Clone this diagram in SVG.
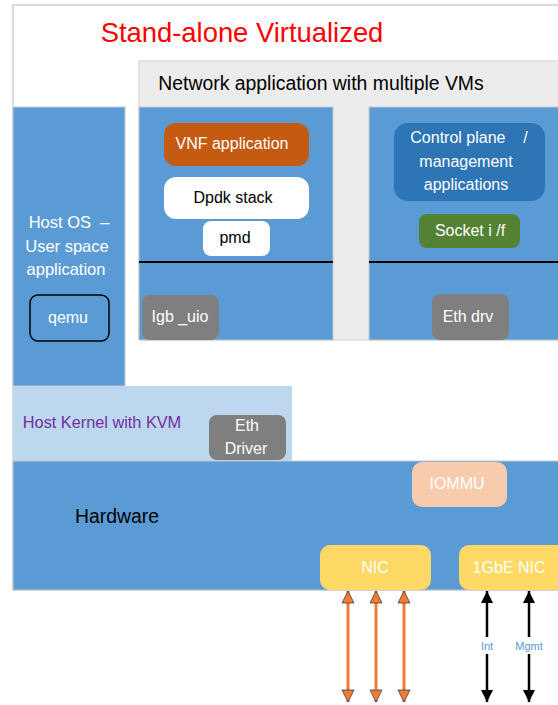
<svg xmlns="http://www.w3.org/2000/svg" width="558" height="705" viewBox="0 0 558 705">
<defs>
<style>
text{font-family:"Liberation Sans",Arial,sans-serif;text-anchor:middle}
.blue{fill:#5b9bd5;stroke:#c8c8c8;stroke-width:1}
.w{fill:#fff;font-size:16px}
.k{fill:#000;font-size:16px}
.gray{fill:#7f7f7f}
.lbl{fill:#5b9bd5;font-size:11px}
</style>
<marker id="oa" viewBox="0 0 14 14" refX="13" refY="7" markerWidth="14" markerHeight="14" markerUnits="userSpaceOnUse" orient="auto-start-reverse">
<path d="M13,7 L1,1 L1,13 Z" fill="#ed7d31" stroke="#404040" stroke-width="0.8"/>
</marker>
<marker id="ka" viewBox="0 0 14 14" refX="13" refY="7" markerWidth="14" markerHeight="14" markerUnits="userSpaceOnUse" orient="auto-start-reverse">
<path d="M13,7 L1,1 L1,13 Z" fill="#000"/>
</marker>
</defs>
<rect width="558" height="705" fill="#fff"/>
<g id="frame">
<rect x="13" y="5" width="560" height="585" fill="#fff" stroke="#d0d0d0" stroke-width="1.5"/>
<text x="242" y="42" style="fill:#ff0000;font-size:27.4px">Stand-alone Virtualized</text>
</g>
<g id="vm-area">
<rect x="139" y="61" width="430" height="279" fill="#ececec" stroke="#d0d0d0" stroke-width="1"/>
<text x="321" y="90" style="fill:#000;font-size:19.4px">Network application with multiple VMs</text>
</g>
<g id="host-os">
<rect class="blue" x="13" y="107" width="112" height="279"/>
<text class="w" x="69" y="228" style="font-size:16.5px" xml:space="preserve">Host OS  –</text>
<text class="w" x="67" y="252" style="font-size:16.5px">User space</text>
<text class="w" x="66" y="275" style="font-size:16.5px">application</text>
</g>
<g id="qemu">
<rect x="30" y="295" width="79" height="46" rx="8" fill="#5b9bd5" stroke="#000" stroke-width="1.5"/>
<text class="w" x="68" y="323">qemu</text>
</g>
<g id="vm1">
<rect class="blue" x="139" y="107" width="194" height="233"/>
<line x1="139" y1="262" x2="333" y2="262" stroke="#000" stroke-width="2"/>
</g>
<g id="vnf-app">
<rect x="164" y="123" width="145" height="43" rx="12" fill="#c55a11"/>
<text class="w" x="232" y="149">VNF application</text>
</g>
<g id="dpdk-stack">
<rect x="164" y="177" width="145" height="42" rx="12" fill="#fff"/>
<text class="k" x="233" y="203">Dpdk stack</text>
</g>
<g id="pmd">
<rect x="203" y="221" width="67" height="35" rx="8" fill="#fff"/>
<text class="k" x="235" y="243">pmd</text>
</g>
<g id="igb-uio">
<rect class="gray" x="142" y="295" width="77" height="45" rx="8"/>
<text class="w" x="180" y="322">Igb _uio</text>
</g>
<g id="vm2">
<rect class="blue" x="369" y="107" width="200" height="233"/>
<line x1="369" y1="262" x2="558" y2="262" stroke="#000" stroke-width="2"/>
</g>
<g id="control-plane">
<rect x="394" y="123" width="151" height="78" rx="14" fill="#2e75b6"/>
<text class="w" x="469" y="143" xml:space="preserve">Control plane    /</text>
<text class="w" x="466" y="167">management</text>
<text class="w" x="466" y="190">applications</text>
</g>
<g id="socket">
<rect x="419" y="214" width="101" height="34" rx="8" fill="#548235"/>
<text class="w" x="470" y="236">Socket i /f</text>
</g>
<g id="eth-drv">
<rect class="gray" x="432" y="294" width="77" height="46" rx="8"/>
<text class="w" x="468" y="322">Eth drv</text>
</g>
<g id="host-kernel">
<rect x="13" y="386" width="279" height="75" fill="#bdd7ee"/>
<text x="102" y="428" style="fill:#7030a0;font-size:16.3px">Host Kernel with KVM</text>
</g>
<g id="eth-driver">
<rect class="gray" x="209" y="415" width="77" height="45" rx="8"/>
<text class="w" x="247" y="431">Eth</text>
<text class="w" x="246" y="454">Driver</text>
</g>
<g id="hardware">
<rect class="blue" x="13" y="461" width="560" height="129"/>
<text x="117" y="523" style="fill:#000;font-size:19.4px">Hardware</text>
</g>
<g id="iommu">
<rect x="412" y="462" width="95" height="45" rx="10" fill="#f8cbad"/>
<text class="w" x="457" y="489">IOMMU</text>
</g>
<g id="nic">
<rect x="320" y="545" width="111" height="45" rx="10" fill="#ffd966"/>
<text class="w" x="375" y="573">NIC</text>
</g>
<g id="nic-1gbe">
<rect x="459" y="545" width="110" height="45" rx="10" fill="#ffd966"/>
<text class="w" x="509" y="573">1GbE NIC</text>
</g>
<g id="connectors">
<line x1="348" y1="591" x2="348" y2="702" stroke="#ed7d31" stroke-width="3" marker-start="url(#oa)" marker-end="url(#oa)"/>
<line x1="376" y1="591" x2="376" y2="702" stroke="#ed7d31" stroke-width="3" marker-start="url(#oa)" marker-end="url(#oa)"/>
<line x1="404" y1="591" x2="404" y2="702" stroke="#ed7d31" stroke-width="3" marker-start="url(#oa)" marker-end="url(#oa)"/>
<line x1="487" y1="591" x2="487" y2="702" stroke="#000" stroke-width="2.5" marker-start="url(#ka)" marker-end="url(#ka)"/>
<line x1="529" y1="591" x2="529" y2="702" stroke="#000" stroke-width="2.5" marker-start="url(#ka)" marker-end="url(#ka)"/>
<rect x="480" y="637" width="14" height="17" fill="#fff"/>
<text class="lbl" x="487" y="650">Int</text>
<rect x="515" y="637" width="28" height="17" fill="#fff"/>
<text class="lbl" x="529" y="650">Mgmt</text>
</g>
</svg>
